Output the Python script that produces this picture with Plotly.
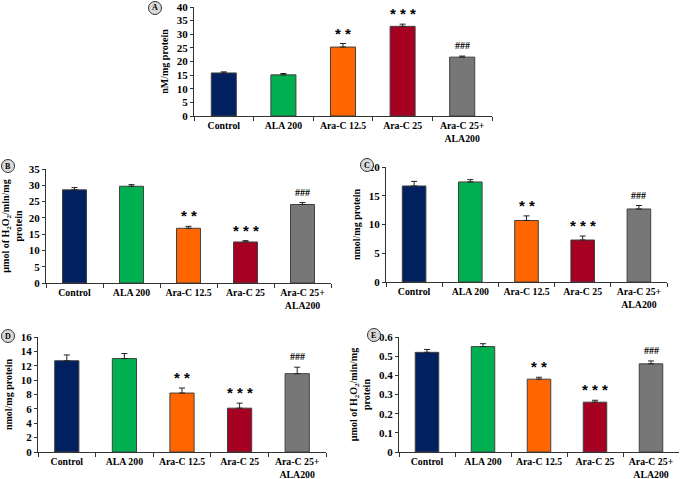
import plotly.graph_objects as go

categories = ["Control", "ALA 200", "Ara-C 12.5", "Ara-C 25", "Ara-C 25+<br>ALA200"]
colors = ["#002060", "#00B050", "#FF6600", "#A50021", "#777777"]

a_vals = [15.8, 15.1, 25.3, 32.9, 21.6]
a_err = [0.4, 0.5, 1.3, 0.8, 0.4]
b_vals = [28.6, 29.7, 16.8, 12.6, 24.1]
b_err = [0.7, 0.5, 0.6, 0.4, 0.6]
c_vals = [16.7, 17.4, 10.7, 7.3, 12.7]
c_err = [0.8, 0.4, 0.8, 0.7, 0.6]
d_vals = [12.7, 13.0, 8.2, 6.1, 10.9]
d_err = [0.8, 0.7, 0.7, 0.7, 0.9]
e_vals = [0.52, 0.55, 0.38, 0.26, 0.46]
e_err = [0.015, 0.015, 0.01, 0.01, 0.015]

marks = ["", "", "**", "***", "###"]

e_ticks = [0, 0.1, 0.2, 0.3, 0.4, 0.5, 0.6]
e_ticktext = ["0", "0.1", "0.2", "0.3", "0.4", "0.5", "0.6"]

h2o2_title = "µmol of H<sub>2</sub>O<sub>2</sub>/min/mg<br>protein"

W, H = 685, 479

panels = [
    dict(label="A", vals=a_vals, err=a_err, title="nM/mg protein", rng=[0, 40], dtick=5,
         px=(194, 492), py=(7, 116), circ=(155, 8)),
    dict(label="B", vals=b_vals, err=b_err, title=h2o2_title, rng=[0, 35], dtick=5,
         px=(46, 331), py=(169, 283), circ=(8, 166)),
    dict(label="C", vals=c_vals, err=c_err, title="nmol/mg protein", rng=[0, 20], dtick=5,
         px=(386, 667), py=(167, 282), circ=(367, 165)),
    dict(label="D", vals=d_vals, err=d_err, title="nmol/mg protein", rng=[0, 16], dtick=2,
         px=(38, 326), py=(337, 452), circ=(8, 336)),
    dict(label="E", vals=e_vals, err=e_err, title=h2o2_title, rng=[0, 0.6], dtick=0.1,
         px=(399, 679), py=(337, 452), circ=(374, 335)),
]

fig = go.Figure()
font_family = "Liberation Serif"
annotations = []
shapes = []
layout = {}

for i, p in enumerate(panels):
    n = "" if i == 0 else str(i + 1)
    xa, ya = "x" + n, "y" + n
    fig.add_trace(go.Bar(
        x=categories, y=p["vals"], xaxis=xa, yaxis=ya,
        marker=dict(color=colors, line=dict(color="#404040", width=1)),
        width=0.42,
        error_y=dict(type="data", array=p["err"], arrayminus=[0] * 5, symmetric=False,
                     color="#222222", thickness=1, width=3),
        showlegend=False, hoverinfo="skip",
    ))
    xd = [p["px"][0] / W, p["px"][1] / W]
    yd = [1 - p["py"][1] / H, 1 - p["py"][0] / H]
    xaxis = dict(domain=xd, anchor=ya, type="category", showline=True, linecolor="#333333",
                 linewidth=1, ticks="outside", ticklen=4, tickcolor="#333333",
                 tickson="boundaries", showgrid=False, tickangle=0, automargin=False,
                 tickfont=dict(family=font_family, size=9.8, color="#000000", weight="bold"))
    yaxis = dict(domain=yd, anchor=xa, range=p["rng"], dtick=p["dtick"], showline=True,
                 linecolor="#333333", linewidth=1, ticks="outside", ticklen=3,
                 tickcolor="#333333", showgrid=False, zeroline=False, automargin=False,
                 tickfont=dict(family=font_family, size=11, color="#000000", weight="bold"),
                 title=dict(text="<b>" + p["title"] + "</b>", standoff=6,
                            font=dict(family=font_family, size=10, color="#000000")))
    if p["label"] == "E":
        yaxis.update(tickvals=e_ticks, ticktext=e_ticktext)
        yaxis.pop("dtick")
    layout["xaxis" + n] = xaxis
    layout["yaxis" + n] = yaxis
    for j, m in enumerate(marks):
        if not m:
            continue
        top = p["vals"][j] + p["err"][j]
        is_hash = m.startswith("#")
        txt = m if is_hash else " ".join(m)
        annotations.append(dict(x=categories[j], y=top, xref=xa, yref=ya, text="<b>" + txt + "</b>",
                                showarrow=False, yanchor="bottom", yshift=3 if is_hash else 0,
                                font=dict(family=font_family if is_hash else "Liberation Sans",
                                          size=10 if is_hash else 15, color="#000000")))
    cx, cy = p["circ"]
    r = 6.5
    shapes.append(dict(type="circle", xref="paper", yref="paper",
                       x0=(cx - r) / W, x1=(cx + r) / W, y0=1 - (cy + r) / H, y1=1 - (cy - r) / H,
                       fillcolor="#D9D9D9", line=dict(color="#333333", width=1)))
    annotations.append(dict(x=cx / W, y=1 - cy / H, xref="paper", yref="paper",
                            xanchor="center", yanchor="middle",
                            text="<b>" + p["label"] + "</b>", showarrow=False,
                            font=dict(family=font_family, size=8, color="#000000")))

fig.update_layout(width=W, height=H, margin=dict(l=0, r=0, t=0, b=0),
                  plot_bgcolor="white", paper_bgcolor="white",
                  annotations=annotations, shapes=shapes, bargap=0.58, **layout)

fig.write_html("out.html", config={"displayModeBar": False},
               post_script="document.body.style.margin='0px';document.body.style.overflow='hidden';")
